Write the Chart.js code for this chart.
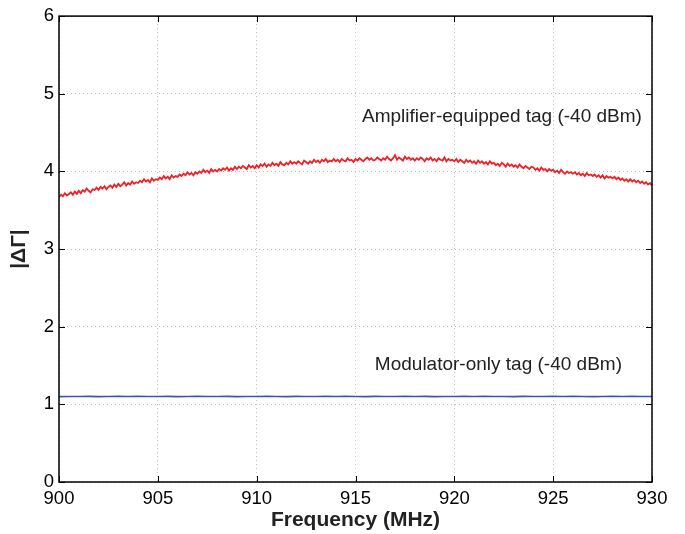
<!DOCTYPE html>
<html>
<head>
<meta charset="utf-8">
<script src="https://cdn.jsdelivr.net/npm/chart.js@4/dist/chart.umd.min.js"></script>
<style>
  html, body { margin: 0; padding: 0; background: #fff; }
  #wrap { width: 685px; height: 534px; }
</style>
</head>
<body>
<div id="wrap"><canvas id="gammaChart" width="685" height="534"></canvas></div>
<script>
// |ΔΓ| vs frequency, amplifier-equipped vs modulator-only tag

const FREQ_START = 900;
const RED_STEP = 0.1;   // MHz between red samples
const BLUE_STEP = 0.5;  // MHz between blue samples

const X_TICKS = [900, 905, 910, 915, 920, 925, 930];
const Y_TICKS = [0, 1, 2, 3, 4, 5, 6];

// amplifier-equipped tag (-40 dBm)
const AMP_VALUES = [
    3.67, 3.70, 3.68, 3.72, 3.69, 3.71, 3.73, 3.70, 3.74, 3.71,
    3.75, 3.72, 3.76, 3.74, 3.78, 3.75, 3.73, 3.77, 3.76, 3.79,
    3.76, 3.80, 3.78, 3.81, 3.77, 3.80, 3.82, 3.79, 3.83, 3.80,
    3.84, 3.81, 3.83, 3.86, 3.82, 3.85, 3.83, 3.87, 3.84, 3.86,
    3.85, 3.88, 3.86, 3.90, 3.87, 3.89, 3.86, 3.91, 3.88, 3.90,
    3.89, 3.92, 3.90, 3.94, 3.91, 3.93, 3.90, 3.95, 3.92, 3.94,
    3.93, 3.96, 3.94, 3.97, 3.95, 3.99, 3.96, 3.98, 3.95, 3.99,
    3.97, 4.00, 3.98, 4.02, 3.99, 4.01, 3.98, 4.03, 4.00, 4.02,
    4.00, 4.03, 4.01, 4.04, 4.02, 4.05, 4.01, 4.04, 4.02, 4.06,
    4.03, 4.06, 4.04, 4.07, 4.05, 4.03, 4.08, 4.05, 4.07, 4.04,
    4.08, 4.05, 4.09, 4.07, 4.10, 4.06, 4.09, 4.07, 4.11, 4.08,
    4.10, 4.07, 4.12, 4.09, 4.08, 4.11, 4.09, 4.13, 4.10, 4.12,
    4.10, 4.13, 4.11, 4.09, 4.14, 4.12, 4.10, 4.13, 4.11, 4.15,
    4.12, 4.14, 4.11, 4.15, 4.13, 4.16, 4.12, 4.14, 4.13, 4.16,
    4.13, 4.15, 4.12, 4.16, 4.14, 4.13, 4.17, 4.14, 4.15, 4.12,
    4.16, 4.14, 4.17, 4.15, 4.13, 4.16, 4.18, 4.15, 4.17, 4.14,
    4.15, 4.18, 4.16, 4.14, 4.17, 4.15, 4.19, 4.16, 4.14, 4.17,
    4.21, 4.15, 4.18, 4.16, 4.14, 4.19, 4.16, 4.18, 4.15, 4.17,
    4.14, 4.17, 4.15, 4.18, 4.16, 4.13, 4.17, 4.15, 4.18, 4.14,
    4.16, 4.13, 4.17, 4.15, 4.14, 4.18, 4.13, 4.16, 4.14, 4.15,
    4.13, 4.16, 4.12, 4.15, 4.13, 4.11, 4.15, 4.12, 4.14, 4.11,
    4.13, 4.10, 4.14, 4.11, 4.13, 4.10, 4.12, 4.09, 4.13, 4.10,
    4.11, 4.08, 4.10, 4.07, 4.11, 4.09, 4.06, 4.10, 4.07, 4.09,
    4.06, 4.08, 4.05, 4.09, 4.06, 4.04, 4.07, 4.05, 4.03, 4.06,
    4.05, 4.02, 4.04, 4.01, 4.05, 4.02, 4.03, 4.00, 4.03, 4.01,
    4.02, 3.99, 4.01, 3.98, 4.02, 3.99, 3.97, 4.00, 3.98, 3.99,
    3.97, 3.99, 3.96, 3.98, 3.95, 3.97, 3.94, 3.98, 3.95, 3.96,
    3.94, 3.96, 3.93, 3.95, 3.92, 3.95, 3.91, 3.94, 3.92, 3.93,
    3.91, 3.93, 3.90, 3.92, 3.89, 3.91, 3.88, 3.90, 3.87, 3.90,
    3.87, 3.89, 3.86, 3.88, 3.85, 3.87, 3.84, 3.86, 3.83, 3.85,
    3.82
];

// modulator-only tag (-40 dBm)
const MOD_VALUES = [
    1.100, 1.102, 1.101, 1.103, 1.100, 1.102, 1.104, 1.101, 1.103, 1.102,
    1.101, 1.103, 1.100, 1.102, 1.104, 1.101, 1.102, 1.103, 1.100, 1.102,
    1.101, 1.104, 1.102, 1.100, 1.103, 1.101, 1.102, 1.104, 1.101, 1.103,
    1.102, 1.100, 1.103, 1.101, 1.102, 1.104, 1.101, 1.103, 1.100, 1.102,
    1.101, 1.103, 1.102, 1.104, 1.101, 1.102, 1.100, 1.103, 1.101, 1.102,
    1.104, 1.101, 1.103, 1.102, 1.100, 1.102, 1.103, 1.101, 1.104, 1.102,
    1.102
];

const LABELS = [
    { text: 'Amplifier-equipped tag (-40 dBm)', x: 915.33, y: 4.70 },
    { text: 'Modulator-only tag (-40 dBm)', x: 915.98, y: 1.51 },
];

const RED = '#ec2227';
const BLUE = '#3a55b4';
const FONT = '"Liberation Sans", Arial, Helvetica, sans-serif';

function toPoints(values, step) {
    return values.map((v, i) => ({ x: FREQ_START + i * step, y: v }));
}

// box, inward ticks and the text labels, MATLAB style
const framePlugin = {
    id: 'frame',
    afterDatasetsDraw(chart) {
        const { ctx, chartArea: a, scales } = chart;
        const len = 6;
        ctx.save();
        ctx.strokeStyle = '#000';
        ctx.lineWidth = 1;
        ctx.beginPath();
        X_TICKS.forEach(t => {
            const px = Math.round(scales.x.getPixelForValue(t)) + 0.5;
            ctx.moveTo(px, a.bottom); ctx.lineTo(px, a.bottom - len);
            ctx.moveTo(px, a.top); ctx.lineTo(px, a.top + len);
        });
        Y_TICKS.forEach(t => {
            const py = Math.round(scales.y.getPixelForValue(t)) + 0.5;
            ctx.moveTo(a.left, py); ctx.lineTo(a.left + len, py);
            ctx.moveTo(a.right, py); ctx.lineTo(a.right - len, py);
        });
        ctx.stroke();
        ctx.lineWidth = 1.5;
        ctx.strokeRect(a.left, a.top, a.right - a.left, a.bottom - a.top);

        ctx.fillStyle = '#222';
        ctx.font = '19px ' + FONT;
        ctx.textAlign = 'left';
        ctx.textBaseline = 'middle';
        LABELS.forEach(l => {
            ctx.fillText(l.text, scales.x.getPixelForValue(l.x), scales.y.getPixelForValue(l.y));
        });
        ctx.restore();
    }
};

new Chart(document.getElementById('gammaChart'), {
    type: 'line',
    data: {
        datasets: [
            {
                label: 'Amplifier-equipped tag (-40 dBm)',
                data: toPoints(AMP_VALUES, RED_STEP),
                borderColor: RED,
                borderWidth: 1.8,
                pointRadius: 0,
                tension: 0,
            },
            {
                label: 'Modulator-only tag (-40 dBm)',
                data: toPoints(MOD_VALUES, BLUE_STEP),
                borderColor: BLUE,
                borderWidth: 1.6,
                pointRadius: 0,
                tension: 0,
            }
        ]
    },
    options: {
        responsive: false,
        animation: false,
        layout: { padding: { top: 16, right: 33, left: 0, bottom: 0 } },
        plugins: { legend: { display: false }, tooltip: { enabled: false } },
        scales: {
            x: {
                type: 'linear',
                min: 900, max: 930,
                afterBuildTicks: s => { s.ticks = X_TICKS.map(v => ({ value: v })); },
                afterFit: s => { s.height = 52; },
                grid: { color: '#bdbdbd', drawTicks: false, lineWidth: 1 },
                border: { display: false, dash: [1, 3] },
                ticks: { color: '#000', font: { family: FONT, size: 18.5 }, padding: 6, maxRotation: 0 },
                title: {
                    display: true, text: 'Frequency (MHz)', color: '#222',
                    font: { family: FONT, size: 21, weight: 'bold' }, padding: { top: 0, bottom: 1 }
                }
            },
            y: {
                min: 0, max: 6,
                afterBuildTicks: s => { s.ticks = Y_TICKS.map(v => ({ value: v })); },
                afterFit: s => { s.width = 59; },
                grid: { color: '#bdbdbd', drawTicks: false, lineWidth: 1 },
                border: { display: false, dash: [1, 3] },
                ticks: { color: '#000', font: { family: FONT, size: 18.5 }, padding: 5 },
                title: {
                    display: true, text: '|ΔΓ|', color: '#222',
                    font: { family: FONT, size: 21, weight: 'bold' }, padding: { top: 7, bottom: 0 }
                }
            }
        }
    },
    plugins: [framePlugin]
});
</script>
</body>
</html>
